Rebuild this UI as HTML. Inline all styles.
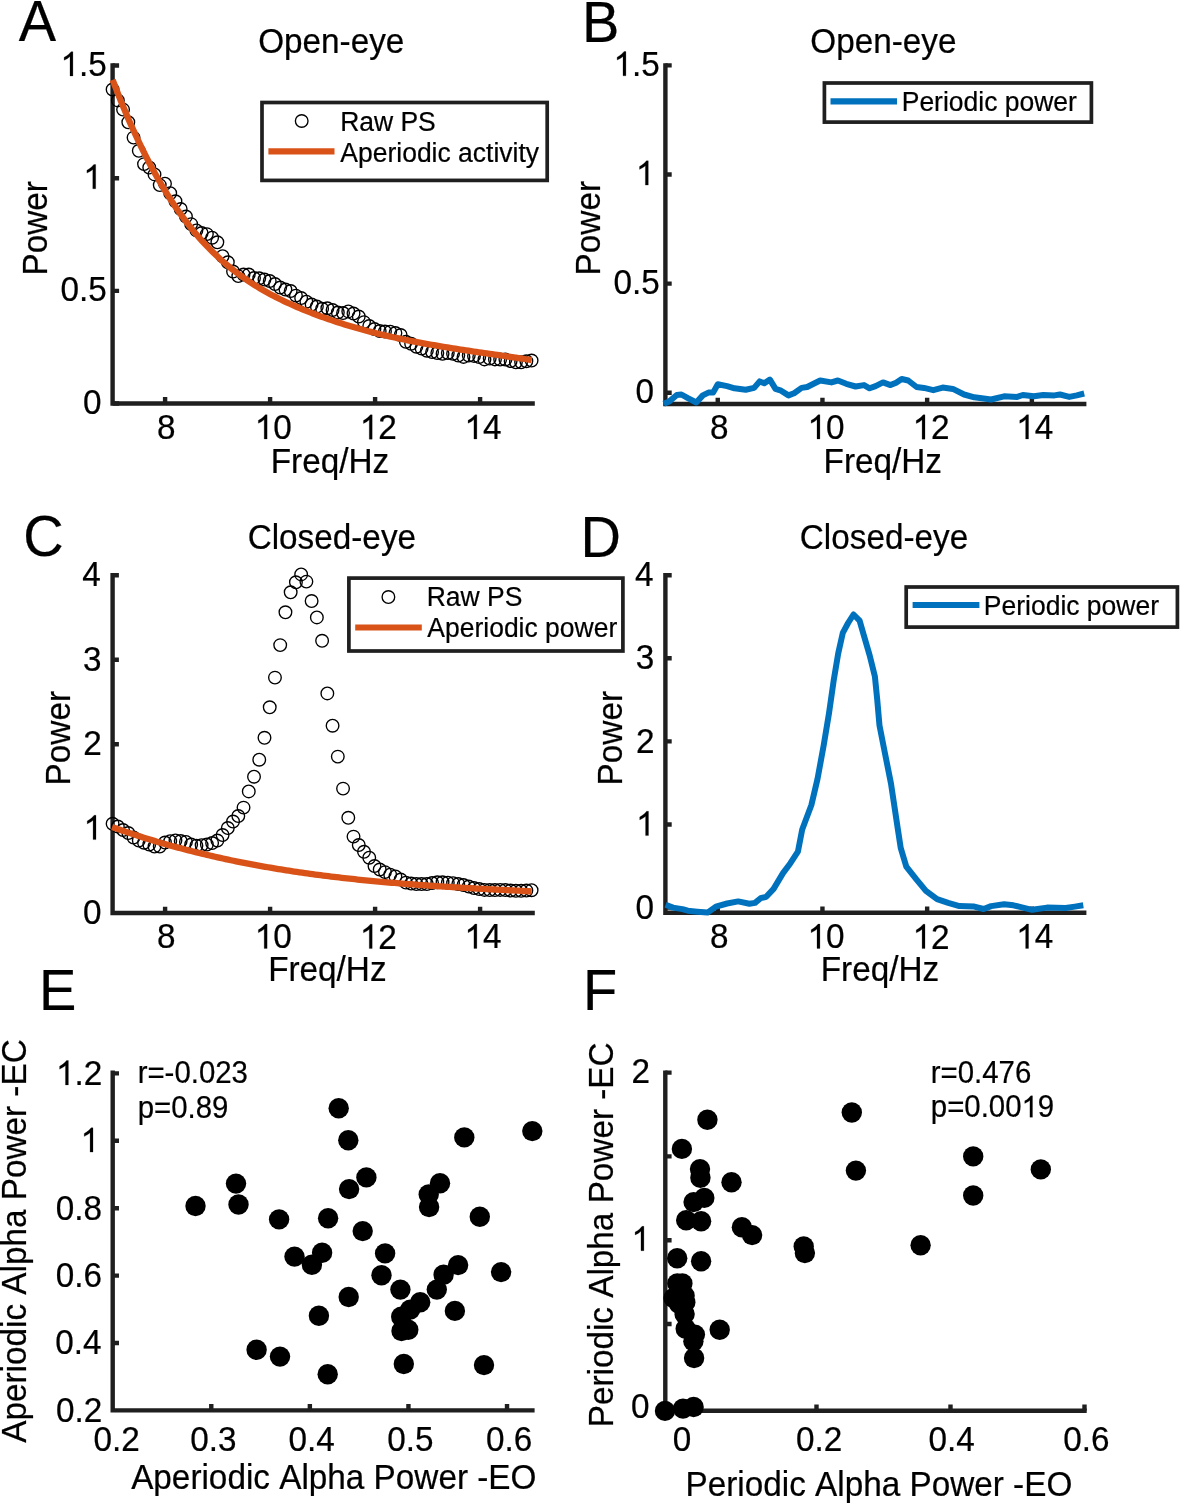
<!DOCTYPE html>
<html><head><meta charset="utf-8"><style>
html,body{margin:0;padding:0;background:#fff;}
svg{display:block;will-change:transform;}
text{font-family:'Liberation Sans', sans-serif;fill:#000;font-kerning:none;stroke:#000;stroke-width:0.22px;}
</style></head><body>
<svg width="1181" height="1504" viewBox="0 0 1181 1504">
<rect width="1181" height="1504" fill="#fff"/>
<path d="M112.60,65.50 L112.60,403.50 L532.60,403.50" fill="none" stroke="#1f1f1f" stroke-width="4.4" stroke-linecap="square" stroke-linejoin="miter"/>
<path d="M165.10,403.50 V397.00 M270.10,403.50 V397.00 M375.10,403.50 V397.00 M480.10,403.50 V397.00 M112.60,403.50 H119.10 M112.60,290.85 H119.10 M112.60,178.20 H119.10 M112.60,65.55 H119.10 " fill="none" stroke="#1f1f1f" stroke-width="4.4" stroke-linecap="butt"/>
<g fill="none" stroke="#000" stroke-width="1.35"><circle cx="112.60" cy="89.50" r="6.3"/><circle cx="117.84" cy="100.40" r="6.3"/><circle cx="123.07" cy="109.60" r="6.3"/><circle cx="128.31" cy="122.30" r="6.3"/><circle cx="133.55" cy="137.60" r="6.3"/><circle cx="138.79" cy="150.80" r="6.3"/><circle cx="144.02" cy="164.10" r="6.3"/><circle cx="149.26" cy="167.50" r="6.3"/><circle cx="154.50" cy="174.40" r="6.3"/><circle cx="159.74" cy="185.10" r="6.3"/><circle cx="164.97" cy="183.70" r="6.3"/><circle cx="170.21" cy="193.20" r="6.3"/><circle cx="175.45" cy="201.30" r="6.3"/><circle cx="180.69" cy="209.00" r="6.3"/><circle cx="185.93" cy="216.50" r="6.3"/><circle cx="191.16" cy="224.10" r="6.3"/><circle cx="196.40" cy="230.40" r="6.3"/><circle cx="201.64" cy="233.00" r="6.3"/><circle cx="206.88" cy="234.10" r="6.3"/><circle cx="212.11" cy="237.70" r="6.3"/><circle cx="217.35" cy="242.30" r="6.3"/><circle cx="222.59" cy="256.20" r="6.3"/><circle cx="227.82" cy="262.30" r="6.3"/><circle cx="233.06" cy="271.50" r="6.3"/><circle cx="238.30" cy="276.10" r="6.3"/><circle cx="243.54" cy="274.50" r="6.3"/><circle cx="248.77" cy="274.50" r="6.3"/><circle cx="254.01" cy="278.00" r="6.3"/><circle cx="259.25" cy="278.30" r="6.3"/><circle cx="264.49" cy="279.50" r="6.3"/><circle cx="269.73" cy="281.00" r="6.3"/><circle cx="274.96" cy="284.00" r="6.3"/><circle cx="280.20" cy="287.50" r="6.3"/><circle cx="285.44" cy="289.50" r="6.3"/><circle cx="290.67" cy="291.00" r="6.3"/><circle cx="295.91" cy="295.60" r="6.3"/><circle cx="301.15" cy="298.00" r="6.3"/><circle cx="306.39" cy="301.70" r="6.3"/><circle cx="311.62" cy="304.50" r="6.3"/><circle cx="316.86" cy="306.50" r="6.3"/><circle cx="322.10" cy="308.80" r="6.3"/><circle cx="327.34" cy="308.30" r="6.3"/><circle cx="332.57" cy="310.00" r="6.3"/><circle cx="337.81" cy="312.50" r="6.3"/><circle cx="343.05" cy="313.00" r="6.3"/><circle cx="348.29" cy="311.40" r="6.3"/><circle cx="353.52" cy="313.50" r="6.3"/><circle cx="358.76" cy="316.50" r="6.3"/><circle cx="364.00" cy="322.10" r="6.3"/><circle cx="369.24" cy="326.00" r="6.3"/><circle cx="374.48" cy="329.00" r="6.3"/><circle cx="379.71" cy="331.00" r="6.3"/><circle cx="384.95" cy="331.50" r="6.3"/><circle cx="390.19" cy="331.70" r="6.3"/><circle cx="395.42" cy="333.00" r="6.3"/><circle cx="400.66" cy="335.00" r="6.3"/><circle cx="405.90" cy="341.80" r="6.3"/><circle cx="411.14" cy="343.80" r="6.3"/><circle cx="416.38" cy="346.70" r="6.3"/><circle cx="421.61" cy="348.50" r="6.3"/><circle cx="426.85" cy="350.70" r="6.3"/><circle cx="432.09" cy="352.00" r="6.3"/><circle cx="437.32" cy="353.00" r="6.3"/><circle cx="442.56" cy="353.80" r="6.3"/><circle cx="447.80" cy="353.00" r="6.3"/><circle cx="453.04" cy="353.80" r="6.3"/><circle cx="458.27" cy="355.50" r="6.3"/><circle cx="463.51" cy="356.90" r="6.3"/><circle cx="468.75" cy="355.50" r="6.3"/><circle cx="473.99" cy="355.90" r="6.3"/><circle cx="479.23" cy="357.00" r="6.3"/><circle cx="484.46" cy="359.40" r="6.3"/><circle cx="489.70" cy="358.50" r="6.3"/><circle cx="494.94" cy="359.40" r="6.3"/><circle cx="500.17" cy="359.50" r="6.3"/><circle cx="505.41" cy="359.50" r="6.3"/><circle cx="510.65" cy="361.00" r="6.3"/><circle cx="515.89" cy="362.30" r="6.3"/><circle cx="521.12" cy="362.30" r="6.3"/><circle cx="526.36" cy="361.30" r="6.3"/><circle cx="531.60" cy="360.50" r="6.3"/></g>
<polyline points="112.60,79.82 115.24,86.71 117.87,93.46 120.51,100.05 123.14,106.49 125.78,112.79 128.42,118.94 131.05,124.96 133.69,130.83 136.32,136.56 138.96,142.16 141.59,147.62 144.23,152.95 146.87,158.16 149.50,163.23 152.14,168.18 154.77,173.00 157.41,177.71 160.05,182.29 162.68,186.76 165.32,191.10 167.95,195.34 170.59,199.47 173.22,203.48 175.86,207.39 178.50,211.19 181.13,214.90 183.77,218.49 186.40,222.00 189.04,225.40 191.68,228.71 194.31,231.93 196.95,235.05 199.58,238.09 202.22,241.05 204.85,243.91 207.49,246.70 210.13,249.41 212.76,252.04 215.40,254.59 218.03,257.07 220.67,259.48 223.31,261.82 225.94,264.09 228.58,266.29 231.21,268.44 233.85,270.52 236.48,272.54 239.12,274.51 241.76,276.42 244.39,278.28 247.03,280.09 249.66,281.85 252.30,283.57 254.94,285.24 257.57,286.86 260.21,288.45 262.84,289.99 265.48,291.50 268.12,292.97 270.75,294.40 273.39,295.79 276.02,297.16 278.66,298.49 281.29,299.79 283.93,301.06 286.57,302.30 289.20,303.51 291.84,304.70 294.47,305.87 297.11,307.01 299.75,308.13 302.38,309.23 305.02,310.32 307.65,311.38 310.29,312.43 312.92,313.45 315.56,314.46 318.20,315.45 320.83,316.42 323.47,317.38 326.10,318.32 328.74,319.24 331.38,320.14 334.01,321.03 336.65,321.90 339.28,322.76 341.92,323.60 344.55,324.42 347.19,325.23 349.83,326.03 352.46,326.81 355.10,327.58 357.73,328.33 360.37,329.07 363.01,329.79 365.64,330.51 368.28,331.21 370.91,331.89 373.55,332.57 376.18,333.23 378.82,333.88 381.46,334.51 384.09,335.14 386.73,335.76 389.36,336.36 392.00,336.95 394.64,337.54 397.27,338.11 399.91,338.68 402.54,339.23 405.18,339.77 407.82,340.31 410.45,340.84 413.09,341.35 415.72,341.86 418.36,342.37 420.99,342.86 423.63,343.35 426.27,343.83 428.90,344.30 431.54,344.76 434.17,345.22 436.81,345.68 439.45,346.12 442.08,346.57 444.72,347.00 447.35,347.43 449.99,347.86 452.62,348.28 455.26,348.70 457.90,349.11 460.53,349.52 463.17,349.92 465.80,350.33 468.44,350.72 471.08,351.12 473.71,351.51 476.35,351.91 478.98,352.30 481.62,352.68 484.25,353.07 486.89,353.45 489.53,353.84 492.16,354.22 494.80,354.60 497.43,354.99 500.07,355.37 502.71,355.75 505.34,356.13 507.98,356.52 510.61,356.90 513.25,357.29 515.88,357.68 518.52,358.07 521.16,358.46 523.79,358.86 526.43,359.25 529.06,359.66 531.70,360.06" fill="none" stroke="#D95319" stroke-width="6.3" stroke-linejoin="round" stroke-linecap="butt"/>
<text transform="translate(18.82,41.18) scale(1,1.04)" font-size="56" text-anchor="start" >A</text>
<text transform="translate(582.05,41.88) scale(1,1.04)" font-size="56" text-anchor="start" >B</text>
<text transform="translate(23.17,556.30) scale(1,1.04)" font-size="56" text-anchor="start" >C</text>
<text transform="translate(580.62,557.13) scale(1,1.04)" font-size="56" text-anchor="start" >D</text>
<text transform="translate(38.98,1010.03) scale(1,1.04)" font-size="56" text-anchor="start" >E</text>
<text transform="translate(583.12,1010.03) scale(1,1.04)" font-size="56" text-anchor="start" >F</text>
<text transform="translate(258.13,52.60) scale(1,1.04)" font-size="33.3" text-anchor="start" >Open-eye</text>
<text transform="translate(810.23,52.50) scale(1,1.04)" font-size="33.3" text-anchor="start" >Open-eye</text>
<text transform="translate(247.63,549.00) scale(1,1.04)" font-size="33.3" text-anchor="start" >Closed-eye</text>
<text transform="translate(799.78,548.50) scale(1,1.04)" font-size="33.3" text-anchor="start" >Closed-eye</text>
<text transform="translate(270.75,473.20) scale(1,1.04)" font-size="33.3" text-anchor="start" >Freq/Hz</text>
<text transform="translate(823.55,473.20) scale(1,1.04)" font-size="33.3" text-anchor="start" >Freq/Hz</text>
<text transform="translate(268.15,980.80) scale(1,1.04)" font-size="33.3" text-anchor="start" >Freq/Hz</text>
<text transform="translate(820.75,980.80) scale(1,1.04)" font-size="33.3" text-anchor="start" >Freq/Hz</text>
<text transform="translate(131.14,1489.30) scale(1,1.04)" font-size="33.3" text-anchor="start" >Aperiodic Alpha Power -EO</text>
<text transform="translate(685.52,1495.70) scale(1,1.04)" font-size="33.3" text-anchor="start" >Periodic Alpha Power -EO</text>
<text transform="translate(47.00,275.48) rotate(-90) scale(1,1.04)" font-size="33.3">Power</text>
<text transform="translate(600.00,275.38) rotate(-90) scale(1,1.04)" font-size="33.3">Power</text>
<text transform="translate(69.80,785.38) rotate(-90) scale(1,1.04)" font-size="33.3">Power</text>
<text transform="translate(622.20,785.38) rotate(-90) scale(1,1.04)" font-size="33.3">Power</text>
<text transform="translate(25.80,1442.74) rotate(-90) scale(1,1.04)" font-size="33.3">Aperiodic Alpha Power -EC</text>
<text transform="translate(613.10,1427.31) rotate(-90) scale(1,1.04)" font-size="33.3">Periodic Alpha Power -EC</text>
<path transform="translate(60.51,75.99) scale(0.01626,-0.01691)" d="M763,0 L583,0 L583,1147 Q518,1085 413,1023 Q318,967 223,930 L223,1104 Q374,1175 487,1276 Q600,1377 647,1440 L763,1440 Z" fill="#000" stroke="#000" stroke-width="13.5"/>
<text transform="translate(60.51,75.99) scale(1,1.04)" font-size="33.3" text-anchor="start" > .5</text>
<path transform="translate(83.29,188.81) scale(0.01626,-0.01691)" d="M763,0 L583,0 L583,1147 Q518,1085 413,1023 Q318,967 223,930 L223,1104 Q374,1175 487,1276 Q600,1377 647,1440 L763,1440 Z" fill="#000" stroke="#000" stroke-width="13.5"/>
<text transform="translate(83.29,188.81) scale(1,1.04)" font-size="33.3" text-anchor="start" > </text>
<text transform="translate(60.41,301.47) scale(1,1.04)" font-size="33.3" text-anchor="start" >0.5</text>
<text transform="translate(83.08,414.12) scale(1,1.04)" font-size="33.3" text-anchor="start" >0</text>
<text transform="translate(157.04,439.02) scale(1,1.04)" font-size="33.3" text-anchor="start" >8</text>
<path transform="translate(254.72,439.02) scale(0.01626,-0.01691)" d="M763,0 L583,0 L583,1147 Q518,1085 413,1023 Q318,967 223,930 L223,1104 Q374,1175 487,1276 Q600,1377 647,1440 L763,1440 Z" fill="#000" stroke="#000" stroke-width="13.5"/>
<text transform="translate(254.72,439.02) scale(1,1.04)" font-size="33.3" text-anchor="start" > 0</text>
<path transform="translate(359.80,439.19) scale(0.01626,-0.01691)" d="M763,0 L583,0 L583,1147 Q518,1085 413,1023 Q318,967 223,930 L223,1104 Q374,1175 487,1276 Q600,1377 647,1440 L763,1440 Z" fill="#000" stroke="#000" stroke-width="13.5"/>
<text transform="translate(359.80,439.19) scale(1,1.04)" font-size="33.3" text-anchor="start" > 2</text>
<path transform="translate(464.45,439.01) scale(0.01626,-0.01691)" d="M763,0 L583,0 L583,1147 Q518,1085 413,1023 Q318,967 223,930 L223,1104 Q374,1175 487,1276 Q600,1377 647,1440 L763,1440 Z" fill="#000" stroke="#000" stroke-width="13.5"/>
<text transform="translate(464.45,439.01) scale(1,1.04)" font-size="33.3" text-anchor="start" > 4</text>
<path transform="translate(613.51,75.84) scale(0.01626,-0.01691)" d="M763,0 L583,0 L583,1147 Q518,1085 413,1023 Q318,967 223,930 L223,1104 Q374,1175 487,1276 Q600,1377 647,1440 L763,1440 Z" fill="#000" stroke="#000" stroke-width="13.5"/>
<text transform="translate(613.51,75.84) scale(1,1.04)" font-size="33.3" text-anchor="start" > .5</text>
<path transform="translate(635.89,185.11) scale(0.01626,-0.01691)" d="M763,0 L583,0 L583,1147 Q518,1085 413,1023 Q318,967 223,930 L223,1104 Q374,1175 487,1276 Q600,1377 647,1440 L763,1440 Z" fill="#000" stroke="#000" stroke-width="13.5"/>
<text transform="translate(635.89,185.11) scale(1,1.04)" font-size="33.3" text-anchor="start" > </text>
<text transform="translate(613.51,294.22) scale(1,1.04)" font-size="33.3" text-anchor="start" >0.5</text>
<text transform="translate(635.38,403.32) scale(1,1.04)" font-size="33.3" text-anchor="start" >0</text>
<text transform="translate(710.04,439.02) scale(1,1.04)" font-size="33.3" text-anchor="start" >8</text>
<path transform="translate(807.52,439.02) scale(0.01626,-0.01691)" d="M763,0 L583,0 L583,1147 Q518,1085 413,1023 Q318,967 223,930 L223,1104 Q374,1175 487,1276 Q600,1377 647,1440 L763,1440 Z" fill="#000" stroke="#000" stroke-width="13.5"/>
<text transform="translate(807.52,439.02) scale(1,1.04)" font-size="33.3" text-anchor="start" > 0</text>
<path transform="translate(912.60,439.19) scale(0.01626,-0.01691)" d="M763,0 L583,0 L583,1147 Q518,1085 413,1023 Q318,967 223,930 L223,1104 Q374,1175 487,1276 Q600,1377 647,1440 L763,1440 Z" fill="#000" stroke="#000" stroke-width="13.5"/>
<text transform="translate(912.60,439.19) scale(1,1.04)" font-size="33.3" text-anchor="start" > 2</text>
<path transform="translate(1016.15,439.01) scale(0.01626,-0.01691)" d="M763,0 L583,0 L583,1147 Q518,1085 413,1023 Q318,967 223,930 L223,1104 Q374,1175 487,1276 Q600,1377 647,1440 L763,1440 Z" fill="#000" stroke="#000" stroke-width="13.5"/>
<text transform="translate(1016.15,439.01) scale(1,1.04)" font-size="33.3" text-anchor="start" > 4</text>
<text transform="translate(82.16,586.11) scale(1,1.04)" font-size="33.3" text-anchor="start" >4</text>
<text transform="translate(82.94,670.62) scale(1,1.04)" font-size="33.3" text-anchor="start" >3</text>
<text transform="translate(83.15,755.29) scale(1,1.04)" font-size="33.3" text-anchor="start" >2</text>
<path transform="translate(83.59,839.61) scale(0.01626,-0.01691)" d="M763,0 L583,0 L583,1147 Q518,1085 413,1023 Q318,967 223,930 L223,1104 Q374,1175 487,1276 Q600,1377 647,1440 L763,1440 Z" fill="#000" stroke="#000" stroke-width="13.5"/>
<text transform="translate(83.59,839.61) scale(1,1.04)" font-size="33.3" text-anchor="start" > </text>
<text transform="translate(83.08,924.12) scale(1,1.04)" font-size="33.3" text-anchor="start" >0</text>
<text transform="translate(157.04,948.42) scale(1,1.04)" font-size="33.3" text-anchor="start" >8</text>
<path transform="translate(254.72,948.42) scale(0.01626,-0.01691)" d="M763,0 L583,0 L583,1147 Q518,1085 413,1023 Q318,967 223,930 L223,1104 Q374,1175 487,1276 Q600,1377 647,1440 L763,1440 Z" fill="#000" stroke="#000" stroke-width="13.5"/>
<text transform="translate(254.72,948.42) scale(1,1.04)" font-size="33.3" text-anchor="start" > 0</text>
<path transform="translate(359.80,948.59) scale(0.01626,-0.01691)" d="M763,0 L583,0 L583,1147 Q518,1085 413,1023 Q318,967 223,930 L223,1104 Q374,1175 487,1276 Q600,1377 647,1440 L763,1440 Z" fill="#000" stroke="#000" stroke-width="13.5"/>
<text transform="translate(359.80,948.59) scale(1,1.04)" font-size="33.3" text-anchor="start" > 2</text>
<path transform="translate(464.45,948.41) scale(0.01626,-0.01691)" d="M763,0 L583,0 L583,1147 Q518,1085 413,1023 Q318,967 223,930 L223,1104 Q374,1175 487,1276 Q600,1377 647,1440 L763,1440 Z" fill="#000" stroke="#000" stroke-width="13.5"/>
<text transform="translate(464.45,948.41) scale(1,1.04)" font-size="33.3" text-anchor="start" > 4</text>
<text transform="translate(635.06,586.31) scale(1,1.04)" font-size="33.3" text-anchor="start" >4</text>
<text transform="translate(635.84,669.42) scale(1,1.04)" font-size="33.3" text-anchor="start" >3</text>
<text transform="translate(636.05,752.69) scale(1,1.04)" font-size="33.3" text-anchor="start" >2</text>
<path transform="translate(636.09,835.61) scale(0.01626,-0.01691)" d="M763,0 L583,0 L583,1147 Q518,1085 413,1023 Q318,967 223,930 L223,1104 Q374,1175 487,1276 Q600,1377 647,1440 L763,1440 Z" fill="#000" stroke="#000" stroke-width="13.5"/>
<text transform="translate(636.09,835.61) scale(1,1.04)" font-size="33.3" text-anchor="start" > </text>
<text transform="translate(635.38,918.72) scale(1,1.04)" font-size="33.3" text-anchor="start" >0</text>
<text transform="translate(710.04,948.42) scale(1,1.04)" font-size="33.3" text-anchor="start" >8</text>
<path transform="translate(807.52,948.42) scale(0.01626,-0.01691)" d="M763,0 L583,0 L583,1147 Q518,1085 413,1023 Q318,967 223,930 L223,1104 Q374,1175 487,1276 Q600,1377 647,1440 L763,1440 Z" fill="#000" stroke="#000" stroke-width="13.5"/>
<text transform="translate(807.52,948.42) scale(1,1.04)" font-size="33.3" text-anchor="start" > 0</text>
<path transform="translate(912.60,948.59) scale(0.01626,-0.01691)" d="M763,0 L583,0 L583,1147 Q518,1085 413,1023 Q318,967 223,930 L223,1104 Q374,1175 487,1276 Q600,1377 647,1440 L763,1440 Z" fill="#000" stroke="#000" stroke-width="13.5"/>
<text transform="translate(912.60,948.59) scale(1,1.04)" font-size="33.3" text-anchor="start" > 2</text>
<path transform="translate(1016.15,948.41) scale(0.01626,-0.01691)" d="M763,0 L583,0 L583,1147 Q518,1085 413,1023 Q318,967 223,930 L223,1104 Q374,1175 487,1276 Q600,1377 647,1440 L763,1440 Z" fill="#000" stroke="#000" stroke-width="13.5"/>
<text transform="translate(1016.15,948.41) scale(1,1.04)" font-size="33.3" text-anchor="start" > 4</text>
<path transform="translate(55.98,1084.89) scale(0.01626,-0.01691)" d="M763,0 L583,0 L583,1147 Q518,1085 413,1023 Q318,967 223,930 L223,1104 Q374,1175 487,1276 Q600,1377 647,1440 L763,1440 Z" fill="#000" stroke="#000" stroke-width="13.5"/>
<text transform="translate(55.98,1084.89) scale(1,1.04)" font-size="33.3" text-anchor="start" > .2</text>
<path transform="translate(80.59,1152.11) scale(0.01626,-0.01691)" d="M763,0 L583,0 L583,1147 Q518,1085 413,1023 Q318,967 223,930 L223,1104 Q374,1175 487,1276 Q600,1377 647,1440 L763,1440 Z" fill="#000" stroke="#000" stroke-width="13.5"/>
<text transform="translate(80.59,1152.11) scale(1,1.04)" font-size="33.3" text-anchor="start" > </text>
<text transform="translate(55.76,1219.52) scale(1,1.04)" font-size="33.3" text-anchor="start" >0.8</text>
<text transform="translate(55.77,1286.92) scale(1,1.04)" font-size="33.3" text-anchor="start" >0.6</text>
<text transform="translate(55.28,1354.32) scale(1,1.04)" font-size="33.3" text-anchor="start" >0.4</text>
<text transform="translate(55.98,1421.72) scale(1,1.04)" font-size="33.3" text-anchor="start" >0.2</text>
<text transform="translate(93.44,1450.62) scale(1,1.04)" font-size="33.3" text-anchor="start" >0.2</text>
<text transform="translate(190.22,1450.62) scale(1,1.04)" font-size="33.3" text-anchor="start" >0.3</text>
<text transform="translate(288.55,1450.62) scale(1,1.04)" font-size="33.3" text-anchor="start" >0.4</text>
<text transform="translate(387.34,1450.62) scale(1,1.04)" font-size="33.3" text-anchor="start" >0.5</text>
<text transform="translate(485.96,1450.62) scale(1,1.04)" font-size="33.3" text-anchor="start" >0.6</text>
<text transform="translate(631.55,1083.29) scale(1,1.04)" font-size="33.3" text-anchor="start" >2</text>
<path transform="translate(631.49,1250.71) scale(0.01626,-0.01691)" d="M763,0 L583,0 L583,1147 Q518,1085 413,1023 Q318,967 223,930 L223,1104 Q374,1175 487,1276 Q600,1377 647,1440 L763,1440 Z" fill="#000" stroke="#000" stroke-width="13.5"/>
<text transform="translate(631.49,1250.71) scale(1,1.04)" font-size="33.3" text-anchor="start" > </text>
<text transform="translate(630.98,1418.32) scale(1,1.04)" font-size="33.3" text-anchor="start" >0</text>
<text transform="translate(672.84,1450.62) scale(1,1.04)" font-size="33.3" text-anchor="start" >0</text>
<text transform="translate(795.94,1450.62) scale(1,1.04)" font-size="33.3" text-anchor="start" >0.2</text>
<text transform="translate(928.59,1450.62) scale(1,1.04)" font-size="33.3" text-anchor="start" >0.4</text>
<text transform="translate(1063.24,1450.62) scale(1,1.04)" font-size="33.3" text-anchor="start" >0.6</text>
<text transform="translate(137.65,1082.60) scale(1,1.04)" font-size="29.4" text-anchor="start" >r=-0.023</text>
<text transform="translate(137.71,1117.50) scale(1,1.04)" font-size="29.4" text-anchor="start" >p=0.89</text>
<text transform="translate(930.75,1083.00) scale(1,1.04)" font-size="29.4" text-anchor="start" >r=0.476</text>
<path transform="translate(1021.55,1117.30) scale(0.01436,-0.01493)" d="M763,0 L583,0 L583,1147 Q518,1085 413,1023 Q318,967 223,930 L223,1104 Q374,1175 487,1276 Q600,1377 647,1440 L763,1440 Z" fill="#000" stroke="#000" stroke-width="15.3"/>
<text transform="translate(930.81,1117.30) scale(1,1.04)" font-size="29.4" text-anchor="start" >p=0.00 9</text>
<path d="M665.40,65.40 L665.40,404.00 L1084.20,404.00" fill="none" stroke="#1f1f1f" stroke-width="4.4" stroke-linecap="square" stroke-linejoin="miter"/>
<path d="M717.75,404.00 V397.70 M822.45,404.00 V397.70 M927.15,404.00 V397.70 M1031.85,404.00 V397.70 M665.40,392.70 H671.70 M665.40,283.60 H671.70 M665.40,174.50 H671.70 M665.40,65.40 H671.70 " fill="none" stroke="#1f1f1f" stroke-width="4.4" stroke-linecap="butt"/>
<path d="M112.60,575.20 L112.60,913.00 L532.60,913.00" fill="none" stroke="#1f1f1f" stroke-width="4.4" stroke-linecap="square" stroke-linejoin="miter"/>
<path d="M165.10,913.00 V906.70 M270.10,913.00 V906.70 M375.10,913.00 V906.70 M480.10,913.00 V906.70 M112.60,828.70 H118.90 M112.60,744.20 H118.90 M112.60,659.70 H118.90 M112.60,575.20 H118.90 " fill="none" stroke="#1f1f1f" stroke-width="4.4" stroke-linecap="butt"/>
<path d="M665.40,575.20 L665.40,912.80 L1084.20,912.80" fill="none" stroke="#1f1f1f" stroke-width="4.4" stroke-linecap="square" stroke-linejoin="miter"/>
<path d="M717.75,912.80 V906.50 M822.45,912.80 V906.50 M927.15,912.80 V906.50 M1031.85,912.80 V906.50 M665.40,907.60 H671.70 M665.40,824.50 H671.70 M665.40,741.40 H671.70 M665.40,658.30 H671.70 M665.40,575.20 H671.70 " fill="none" stroke="#1f1f1f" stroke-width="4.4" stroke-linecap="butt"/>
<path d="M112.70,1072.60 L112.70,1410.40 L532.40,1410.40" fill="none" stroke="#1f1f1f" stroke-width="4.4" stroke-linecap="square" stroke-linejoin="miter"/>
<path d="M211.28,1410.40 V1404.10 M309.86,1410.40 V1404.10 M408.44,1410.40 V1404.10 M507.02,1410.40 V1404.10 M112.70,1343.00 H119.00 M112.70,1275.60 H119.00 M112.70,1208.20 H119.00 M112.70,1140.80 H119.00 M112.70,1073.40 H119.00 " fill="none" stroke="#1f1f1f" stroke-width="4.4" stroke-linecap="butt"/>
<path d="M665.30,1072.60 L665.30,1410.70 L1084.50,1410.70" fill="none" stroke="#1f1f1f" stroke-width="4.4" stroke-linecap="square" stroke-linejoin="miter"/>
<path d="M682.50,1410.70 V1404.40 M816.50,1410.70 V1404.40 M950.50,1410.70 V1404.40 M1084.50,1410.70 V1404.40 M665.30,1407.80 H671.60 M665.30,1324.00 H671.60 M665.30,1240.20 H671.60 M665.30,1156.40 H671.60 M665.30,1072.60 H671.60 " fill="none" stroke="#1f1f1f" stroke-width="4.4" stroke-linecap="butt"/>
<rect x="262.00" y="102.50" width="285.20" height="77.90" fill="#fff" stroke="#1f1f1f" stroke-width="3.7"/>
<circle cx="301.7" cy="121" r="6.3" fill="none" stroke="#000" stroke-width="1.35"/>
<text transform="translate(340.13,130.50) scale(1,1.04)" font-size="26.5" text-anchor="start" >Raw PS</text>
<line x1="268.40" y1="151.40" x2="334.50" y2="151.40" stroke="#D95319" stroke-width="6.2"/>
<text transform="translate(340.35,161.50) scale(1,1.04)" font-size="26.5" text-anchor="start" >Aperiodic activity</text>
<rect x="824.40" y="83.00" width="267.00" height="39.10" fill="#fff" stroke="#1f1f1f" stroke-width="3.7"/>
<line x1="830.50" y1="101.40" x2="897.00" y2="101.40" stroke="#0072BD" stroke-width="6.2"/>
<text transform="translate(901.73,110.80) scale(1,1.04)" font-size="26.5" text-anchor="start" >Periodic power</text>
<rect x="348.90" y="578.10" width="274.00" height="72.90" fill="#fff" stroke="#1f1f1f" stroke-width="3.7"/>
<circle cx="388.4" cy="597" r="6.3" fill="none" stroke="#000" stroke-width="1.35"/>
<text transform="translate(426.73,606.20) scale(1,1.04)" font-size="26.5" text-anchor="start" >Raw PS</text>
<line x1="355.20" y1="627.50" x2="421.80" y2="627.50" stroke="#D95319" stroke-width="6.2"/>
<text transform="translate(427.35,636.90) scale(1,1.04)" font-size="26.5" text-anchor="start" >Aperiodic power</text>
<rect x="906.20" y="587.00" width="271.20" height="40.10" fill="#fff" stroke="#1f1f1f" stroke-width="3.7"/>
<line x1="912.60" y1="605.00" x2="979.40" y2="605.00" stroke="#0072BD" stroke-width="6.2"/>
<text transform="translate(983.83,615.40) scale(1,1.04)" font-size="26.5" text-anchor="start" >Periodic power</text>
<polyline points="663.70,403.80 669.30,401.40 676.80,395.00 681.40,394.50 687.90,398.20 696.30,402.50 702.80,395.40 708.40,392.60 713.10,392.60 717.80,384.20 727.10,386.10 734.50,388.30 745.70,389.80 754.10,387.90 759.70,381.40 764.30,383.30 769.90,379.60 775.50,388.90 781.10,390.70 788.50,395.40 794.10,393.20 801.60,387.90 807.20,387.00 814.60,383.30 820.20,380.50 831.40,382.40 837.90,380.50 846.30,383.80 855.60,386.50 864.00,385.10 869.60,388.30 875.60,386.10 883.00,382.40 890.50,385.10 896.10,382.70 901.70,379.00 908.20,380.50 916.60,387.00 924.00,387.90 933.30,390.20 942.70,387.60 952.90,388.90 964.10,394.50 974.30,397.30 991.10,399.50 1004.10,396.30 1017.20,396.90 1022.80,395.00 1033.90,396.30 1043.30,395.00 1054.40,395.40 1060.00,394.50 1069.30,396.90 1076.80,395.40 1084.20,393.50" fill="none" stroke="#0072BD" stroke-width="6.0" stroke-linejoin="round" stroke-linecap="butt"/>
<polyline points="665.60,904.80 673.00,907.60 682.40,909.10 687.90,910.70 697.30,911.70 707.50,912.60 715.90,906.60 727.10,903.50 738.20,901.40 749.40,903.80 755.00,902.90 760.60,898.20 766.20,896.80 773.60,888.90 783.00,873.10 790.40,863.20 797.90,851.70 802.20,829.50 811.40,805.00 817.50,779.00 823.70,745.30 829.00,713.20 833.60,681.10 838.20,653.50 842.80,632.90 848.10,623.00 853.50,614.50 859.60,620.70 864.20,636.70 869.60,655.10 874.90,676.50 877.20,699.40 879.50,725.50 884.90,753.00 891.00,783.60 897.90,829.50 900.70,847.90 906.30,866.60 916.60,879.60 925.90,890.80 937.10,899.20 948.20,902.90 959.40,906.10 974.30,906.60 983.60,909.00 991.10,906.10 1004.10,904.20 1013.40,905.30 1020.90,907.20 1032.10,909.80 1047.00,907.60 1065.60,908.00 1074.90,906.60 1083.30,905.30" fill="none" stroke="#0072BD" stroke-width="6.0" stroke-linejoin="round" stroke-linecap="butt"/>
<g fill="none" stroke="#000" stroke-width="1.35"><circle cx="112.60" cy="823.80" r="6.3"/><circle cx="117.84" cy="826.50" r="6.3"/><circle cx="123.07" cy="830.00" r="6.3"/><circle cx="128.31" cy="833.00" r="6.3"/><circle cx="133.55" cy="837.50" r="6.3"/><circle cx="138.79" cy="840.50" r="6.3"/><circle cx="144.02" cy="842.70" r="6.3"/><circle cx="149.26" cy="844.50" r="6.3"/><circle cx="154.50" cy="846.50" r="6.3"/><circle cx="159.74" cy="846.50" r="6.3"/><circle cx="164.97" cy="842.50" r="6.3"/><circle cx="170.21" cy="841.20" r="6.3"/><circle cx="175.45" cy="840.40" r="6.3"/><circle cx="180.69" cy="841.00" r="6.3"/><circle cx="185.93" cy="841.90" r="6.3"/><circle cx="191.16" cy="844.50" r="6.3"/><circle cx="196.40" cy="845.70" r="6.3"/><circle cx="201.64" cy="845.20" r="6.3"/><circle cx="206.88" cy="844.50" r="6.3"/><circle cx="212.11" cy="843.00" r="6.3"/><circle cx="217.35" cy="840.50" r="6.3"/><circle cx="222.59" cy="835.00" r="6.3"/><circle cx="227.82" cy="828.00" r="6.3"/><circle cx="233.06" cy="821.50" r="6.3"/><circle cx="238.30" cy="816.00" r="6.3"/><circle cx="243.54" cy="807.60" r="6.3"/><circle cx="248.77" cy="791.40" r="6.3"/><circle cx="254.01" cy="776.70" r="6.3"/><circle cx="259.25" cy="759.70" r="6.3"/><circle cx="264.49" cy="737.80" r="6.3"/><circle cx="269.73" cy="707.30" r="6.3"/><circle cx="274.96" cy="677.60" r="6.3"/><circle cx="280.20" cy="645.10" r="6.3"/><circle cx="285.44" cy="612.30" r="6.3"/><circle cx="290.67" cy="592.30" r="6.3"/><circle cx="295.91" cy="582.30" r="6.3"/><circle cx="301.15" cy="574.40" r="6.3"/><circle cx="306.39" cy="581.60" r="6.3"/><circle cx="311.62" cy="601.00" r="6.3"/><circle cx="316.86" cy="617.40" r="6.3"/><circle cx="322.10" cy="640.80" r="6.3"/><circle cx="327.34" cy="693.40" r="6.3"/><circle cx="332.57" cy="725.70" r="6.3"/><circle cx="337.81" cy="756.60" r="6.3"/><circle cx="343.05" cy="788.60" r="6.3"/><circle cx="348.29" cy="817.80" r="6.3"/><circle cx="353.52" cy="836.60" r="6.3"/><circle cx="358.76" cy="845.00" r="6.3"/><circle cx="364.00" cy="851.80" r="6.3"/><circle cx="369.24" cy="857.70" r="6.3"/><circle cx="374.48" cy="866.00" r="6.3"/><circle cx="379.71" cy="869.50" r="6.3"/><circle cx="384.95" cy="872.10" r="6.3"/><circle cx="390.19" cy="874.70" r="6.3"/><circle cx="395.42" cy="876.40" r="6.3"/><circle cx="400.66" cy="879.50" r="6.3"/><circle cx="405.90" cy="882.60" r="6.3"/><circle cx="411.14" cy="883.50" r="6.3"/><circle cx="416.38" cy="884.00" r="6.3"/><circle cx="421.61" cy="884.00" r="6.3"/><circle cx="426.85" cy="884.00" r="6.3"/><circle cx="432.09" cy="883.00" r="6.3"/><circle cx="437.32" cy="882.30" r="6.3"/><circle cx="442.56" cy="882.30" r="6.3"/><circle cx="447.80" cy="882.70" r="6.3"/><circle cx="453.04" cy="883.10" r="6.3"/><circle cx="458.27" cy="884.00" r="6.3"/><circle cx="463.51" cy="885.00" r="6.3"/><circle cx="468.75" cy="886.50" r="6.3"/><circle cx="473.99" cy="888.00" r="6.3"/><circle cx="479.23" cy="889.00" r="6.3"/><circle cx="484.46" cy="889.90" r="6.3"/><circle cx="489.70" cy="890.00" r="6.3"/><circle cx="494.94" cy="890.00" r="6.3"/><circle cx="500.17" cy="889.90" r="6.3"/><circle cx="505.41" cy="890.00" r="6.3"/><circle cx="510.65" cy="890.50" r="6.3"/><circle cx="515.89" cy="890.80" r="6.3"/><circle cx="521.12" cy="890.80" r="6.3"/><circle cx="526.36" cy="890.50" r="6.3"/><circle cx="531.60" cy="890.20" r="6.3"/></g>
<polyline points="112.10,827.01 114.74,827.95 117.38,828.88 120.02,829.80 122.66,830.71 125.29,831.61 127.93,832.50 130.57,833.38 133.21,834.25 135.85,835.11 138.49,835.96 141.13,836.80 143.77,837.63 146.41,838.45 149.05,839.26 151.68,840.07 154.32,840.86 156.96,841.65 159.60,842.43 162.24,843.19 164.88,843.95 167.52,844.70 170.16,845.44 172.80,846.18 175.44,846.90 178.07,847.62 180.71,848.32 183.35,849.02 185.99,849.71 188.63,850.39 191.27,851.06 193.91,851.73 196.55,852.39 199.19,853.03 201.83,853.68 204.46,854.31 207.10,854.93 209.74,855.55 212.38,856.16 215.02,856.76 217.66,857.35 220.30,857.94 222.94,858.52 225.58,859.09 228.22,859.65 230.85,860.21 233.49,860.76 236.13,861.30 238.77,861.84 241.41,862.36 244.05,862.89 246.69,863.40 249.33,863.91 251.97,864.41 254.61,864.90 257.24,865.39 259.88,865.87 262.52,866.34 265.16,866.80 267.80,867.27 270.44,867.72 273.08,868.17 275.72,868.61 278.36,869.04 281.00,869.47 283.63,869.89 286.27,870.31 288.91,870.72 291.55,871.13 294.19,871.53 296.83,871.92 299.47,872.31 302.11,872.69 304.75,873.06 307.39,873.43 310.02,873.80 312.66,874.16 315.30,874.51 317.94,874.86 320.58,875.21 323.22,875.55 325.86,875.88 328.50,876.21 331.14,876.53 333.78,876.85 336.41,877.17 339.05,877.47 341.69,877.78 344.33,878.08 346.97,878.37 349.61,878.67 352.25,878.95 354.89,879.23 357.53,879.51 360.17,879.78 362.80,880.05 365.44,880.32 368.08,880.58 370.72,880.84 373.36,881.09 376.00,881.34 378.64,881.58 381.28,881.82 383.92,882.06 386.56,882.29 389.19,882.53 391.83,882.75 394.47,882.98 397.11,883.20 399.75,883.41 402.39,883.63 405.03,883.84 407.67,884.04 410.31,884.25 412.95,884.45 415.58,884.64 418.22,884.84 420.86,885.03 423.50,885.22 426.14,885.41 428.78,885.59 431.42,885.77 434.06,885.95 436.70,886.13 439.34,886.30 441.97,886.47 444.61,886.64 447.25,886.81 449.89,886.98 452.53,887.14 455.17,887.30 457.81,887.46 460.45,887.62 463.09,887.77 465.73,887.92 468.36,888.08 471.00,888.23 473.64,888.37 476.28,888.52 478.92,888.67 481.56,888.81 484.20,888.95 486.84,889.09 489.48,889.24 492.12,889.37 494.75,889.51 497.39,889.65 500.03,889.79 502.67,889.92 505.31,890.05 507.95,890.19 510.59,890.32 513.23,890.45 515.87,890.58 518.51,890.72 521.14,890.85 523.78,890.98 526.42,891.11 529.06,891.24 531.70,891.37" fill="none" stroke="#D95319" stroke-width="6.3" stroke-linejoin="round" stroke-linecap="butt"/>
<g fill="#000"><circle cx="195.50" cy="1206.00" r="10.2"/><circle cx="236.00" cy="1183.60" r="10.2"/><circle cx="238.50" cy="1204.50" r="10.2"/><circle cx="279.10" cy="1219.40" r="10.2"/><circle cx="294.50" cy="1256.60" r="10.2"/><circle cx="311.90" cy="1264.70" r="10.2"/><circle cx="322.10" cy="1252.80" r="10.2"/><circle cx="328.10" cy="1218.30" r="10.2"/><circle cx="338.70" cy="1108.30" r="10.2"/><circle cx="348.30" cy="1140.20" r="10.2"/><circle cx="349.10" cy="1189.10" r="10.2"/><circle cx="366.40" cy="1177.40" r="10.2"/><circle cx="362.70" cy="1231.10" r="10.2"/><circle cx="348.70" cy="1297.00" r="10.2"/><circle cx="318.90" cy="1315.70" r="10.2"/><circle cx="256.60" cy="1349.80" r="10.2"/><circle cx="280.00" cy="1356.60" r="10.2"/><circle cx="327.70" cy="1374.30" r="10.2"/><circle cx="464.30" cy="1137.40" r="10.2"/><circle cx="532.30" cy="1131.10" r="10.2"/><circle cx="440.00" cy="1183.20" r="10.2"/><circle cx="428.70" cy="1194.50" r="10.2"/><circle cx="429.10" cy="1207.00" r="10.2"/><circle cx="479.80" cy="1216.80" r="10.2"/><circle cx="385.10" cy="1253.40" r="10.2"/><circle cx="381.50" cy="1275.30" r="10.2"/><circle cx="400.40" cy="1289.60" r="10.2"/><circle cx="458.10" cy="1265.10" r="10.2"/><circle cx="443.60" cy="1274.70" r="10.2"/><circle cx="436.80" cy="1289.60" r="10.2"/><circle cx="501.10" cy="1272.10" r="10.2"/><circle cx="420.20" cy="1302.30" r="10.2"/><circle cx="410.20" cy="1309.60" r="10.2"/><circle cx="401.20" cy="1316.80" r="10.2"/><circle cx="401.50" cy="1331.00" r="10.2"/><circle cx="408.30" cy="1329.80" r="10.2"/><circle cx="454.90" cy="1310.90" r="10.2"/><circle cx="403.80" cy="1364.00" r="10.2"/><circle cx="484.00" cy="1365.10" r="10.2"/></g>
<g fill="#000"><circle cx="707.40" cy="1119.80" r="10.2"/><circle cx="681.90" cy="1148.90" r="10.2"/><circle cx="700.00" cy="1169.10" r="10.2"/><circle cx="700.40" cy="1177.70" r="10.2"/><circle cx="731.50" cy="1182.30" r="10.2"/><circle cx="704.30" cy="1197.90" r="10.2"/><circle cx="693.60" cy="1202.10" r="10.2"/><circle cx="686.20" cy="1220.20" r="10.2"/><circle cx="701.10" cy="1221.30" r="10.2"/><circle cx="741.90" cy="1227.20" r="10.2"/><circle cx="752.10" cy="1235.10" r="10.2"/><circle cx="677.20" cy="1258.30" r="10.2"/><circle cx="701.10" cy="1261.30" r="10.2"/><circle cx="677.30" cy="1283.40" r="10.2"/><circle cx="682.40" cy="1283.40" r="10.2"/><circle cx="673.60" cy="1298.00" r="10.2"/><circle cx="684.60" cy="1295.80" r="10.2"/><circle cx="685.30" cy="1302.40" r="10.2"/><circle cx="679.10" cy="1303.90" r="10.2"/><circle cx="684.60" cy="1314.10" r="10.2"/><circle cx="685.70" cy="1328.70" r="10.2"/><circle cx="694.90" cy="1334.60" r="10.2"/><circle cx="693.40" cy="1341.20" r="10.2"/><circle cx="694.10" cy="1358.00" r="10.2"/><circle cx="719.70" cy="1329.80" r="10.2"/><circle cx="665.00" cy="1410.90" r="10.2"/><circle cx="683.00" cy="1408.60" r="10.2"/><circle cx="693.60" cy="1407.00" r="10.2"/><circle cx="851.80" cy="1112.50" r="10.2"/><circle cx="855.90" cy="1170.60" r="10.2"/><circle cx="973.20" cy="1156.40" r="10.2"/><circle cx="973.20" cy="1195.50" r="10.2"/><circle cx="1040.80" cy="1169.40" r="10.2"/><circle cx="920.60" cy="1245.30" r="10.2"/><circle cx="803.70" cy="1246.50" r="10.2"/><circle cx="804.90" cy="1253.10" r="10.2"/></g>
</svg></body></html>
